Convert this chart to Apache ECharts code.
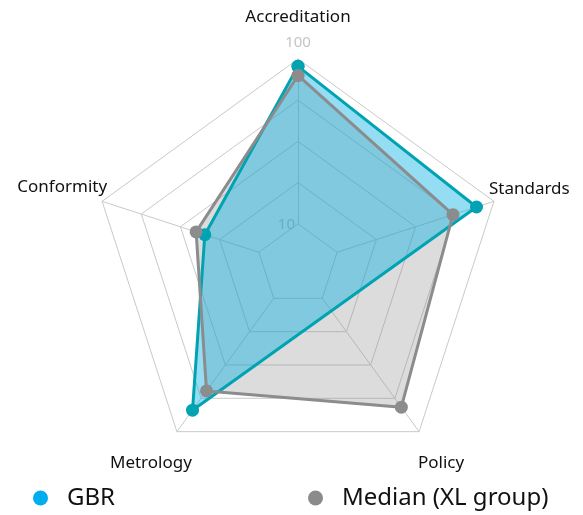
<!DOCTYPE html>
<html>
<head>
<meta charset="utf-8">
<script src="https://cdn.jsdelivr.net/npm/echarts@6/dist/echarts.min.js"></script>
<style>
  html, body { margin: 0; padding: 0; background: #fff; }
  #chart { width: 583px; height: 515px; }
</style>
</head>
<body>
<div id="chart"></div>
<script>
// indicators, counter-clockwise starting at the top
var indicators = ['Accreditation', 'Conformity', 'Metrology', 'Policy', 'Standards'];
var gbr = [96, 41, 85.5, null, 90];          // no Policy value for GBR
var median = [91, 46, 72.5, 83.5, 76.5];
var scaleMin = 10, scaleMax = 100, rings = 4;
var scaleLabels = ['10', '100'];

var CX = 298, CY = 265, R = 206, R0 = R / 5;
var FONT = 'Noto Sans';

// where each indicator name sits, relative to the outer vertex
var nameLayout = [
  { dx: 0, dy: -42, align: 'center' },
  { dx: 5, dy: -14, align: 'right' },
  { dx: -26, dy: 31, align: 'center' },
  { dx: 22, dy: 31, align: 'center' },
  { dx: -5, dy: -12, align: 'left' }
];

function vertex(i, r) {
  var a = (90 + 360 / indicators.length * i) * Math.PI / 180;
  return [CX + r * Math.cos(a), CY - r * Math.sin(a)];
}
// [radius value, axis index] pairs, repeating the first to close the shape
function closed(arr) {
  return arr.concat([arr[0]]).map(function (v, i) { return [v, i]; });
}

var graphics = indicators.map(function (name, i) {
  var p = vertex(i, R), l = nameLayout[i];
  return {
    type: 'text', x: p[0] + l.dx, y: p[1] + l.dy,
    style: { text: name, fill: '#111', fontSize: 17, fontFamily: FONT, align: l.align, verticalAlign: 'middle' }
  };
});
// scale labels on the top axis (inner ring and outer ring)
var pIn = vertex(0, R0), pOut = vertex(0, R);
graphics.push({
  type: 'text', x: pIn[0] - 3, y: pIn[1] + 1,
  style: { text: scaleLabels[0], fill: '#bdbdbd', fontSize: 15, fontFamily: FONT, align: 'right', verticalAlign: 'middle' }
});
graphics.push({
  type: 'text', x: pOut[0], y: pOut[1] - 16,
  style: { text: scaleLabels[1], fill: '#c4c4c4', fontSize: 15, fontFamily: FONT, align: 'center', verticalAlign: 'middle' }
});

var chart = echarts.init(document.getElementById('chart'));
var gridColor = '#cacaca';

chart.setOption({
  animation: false,
  backgroundColor: '#fff',
  graphic: graphics,
  radar: {
    center: [CX, CY],
    radius: [R0, R],
    startAngle: 90,
    splitNumber: rings,
    shape: 'polygon',
    indicator: indicators.map(function (n) { return { name: n, min: scaleMin, max: scaleMax }; }),
    axisName: { show: false },
    axisLine: { lineStyle: { color: gridColor, width: 1 } },
    splitLine: { lineStyle: { color: gridColor, width: 1 } },
    splitArea: { show: false },
    axisLabel: { show: false },
    axisTick: { show: false }
  },
  // same centre and radius as the radar, used to draw the series
  polar: { center: [CX, CY], radius: [0, R] },
  angleAxis: {
    type: 'value', min: 0, max: indicators.length,
    startAngle: 90, clockwise: false, show: false
  },
  radiusAxis: {
    type: 'value', show: false,
    min: scaleMin - (scaleMax - scaleMin) * R0 / (R - R0), max: scaleMax
  },
  legend: [
    {
      left: 33, top: 486, padding: 0, icon: 'circle', itemWidth: 15, itemHeight: 15,
      data: [{ name: 'GBR', itemStyle: { color: '#00aeef', borderWidth: 0 } }],
      textStyle: { fontSize: 24, color: '#111', fontFamily: FONT, padding: [0, 0, 0, 14] }
    },
    {
      left: 308, top: 486, padding: 0, icon: 'circle', itemWidth: 15, itemHeight: 15,
      data: [{ name: 'Median (XL group)', itemStyle: { color: '#8a8b8d', borderWidth: 0 } }],
      textStyle: { fontSize: 24, color: '#111', fontFamily: FONT, padding: [0, 0, 0, 14] }
    }
  ],
  series: [
    {
      name: 'Median (XL group)', type: 'line', coordinateSystem: 'polar',
      data: closed(median), symbol: 'none', clip: false, silent: true, connectNulls: true,
      lineStyle: { width: 0, opacity: 0 },
      areaStyle: { color: '#8a8b8d', opacity: 0.3, origin: 'start' }
    },
    {
      name: 'GBR', type: 'line', coordinateSystem: 'polar',
      data: closed(gbr), symbol: 'none', clip: false, silent: true, connectNulls: true,
      lineStyle: { width: 0, opacity: 0 },
      areaStyle: { color: '#00aee0', opacity: 0.42, origin: 'start' }
    },
    {
      name: 'GBR', type: 'line', coordinateSystem: 'polar',
      data: closed(gbr), clip: false, connectNulls: true,
      symbol: 'circle', symbolSize: 13, showAllSymbol: true,
      itemStyle: { color: '#00a3b2' },
      lineStyle: { color: '#00a3b2', width: 3 }
    },
    {
      name: 'Median (XL group)', type: 'line', coordinateSystem: 'polar',
      data: closed(median), clip: false, connectNulls: true,
      symbol: 'circle', symbolSize: 13, showAllSymbol: true,
      itemStyle: { color: '#8b8c8e' },
      lineStyle: { color: '#8b8c8e', width: 3 }
    }
  ]
});
</script>
</body>
</html>
